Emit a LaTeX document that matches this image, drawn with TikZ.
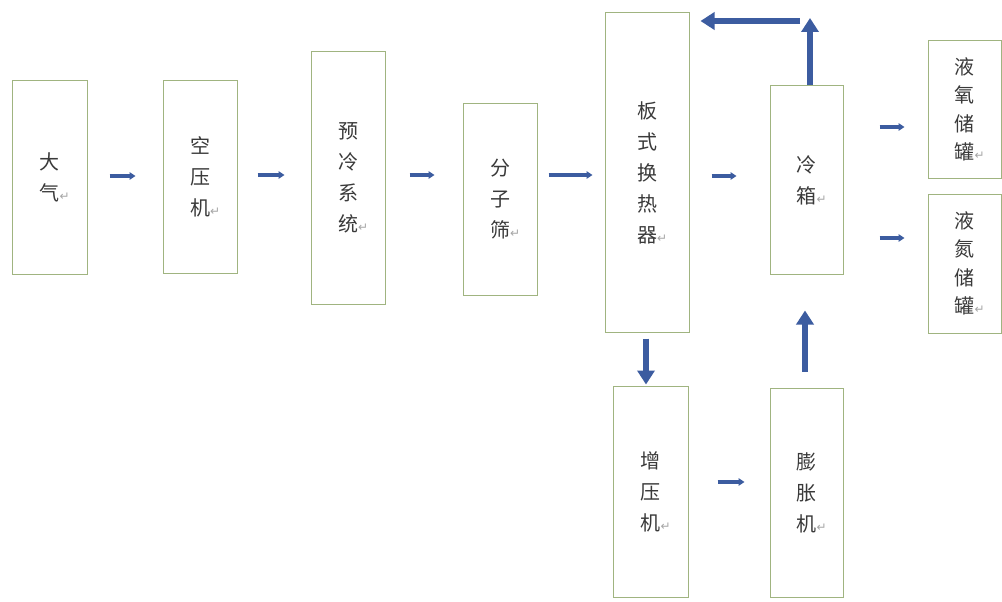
\documentclass[tikz,border=0pt]{standalone}
\usepackage{fontspec}
\newfontfamily\cjk{Noto Sans CJK SC}
\newfontfamily\symf{DejaVu Sans}
\usetikzlibrary{arrows.meta}
\definecolor{boxc}{RGB}{160,180,128}
\definecolor{arrc}{RGB}{60,92,160}
\definecolor{txtc}{RGB}{58,58,58}
\newcommand{\pmk}{\rlap{\symf\fontsize{12}{12}\selectfont\textcolor{black!35}{↵}}}
\tikzset{
  box/.style={draw=boxc, line width=1pt, fill=white, inner sep=0pt, align=center,
    text=txtc, font={\cjk\fontsize{20}{31}\selectfont}},
  sarr/.style={draw=arrc, line width=4pt, -{Triangle[length=6pt,width=7.5pt]}},
  barr/.style={draw=arrc, line width=6.5pt, -{Triangle[length=14pt,width=17pt]}}
}
\begin{document}
\begin{tikzpicture}[x=1pt,y=-1pt]
\useasboundingbox[fill=white] (0,0) rectangle (1002,602);
\node[box, minimum width=75pt, minimum height=193pt] (dq) at (49.5,177.5) {大\\气\pmk};
\node[box, minimum width=74pt, minimum height=192pt] (ky) at (200,177) {空\\压\\机\pmk};
\node[box, minimum width=74pt, minimum height=252pt] (yl) at (348,178) {预\\冷\\系\\统\pmk};
\node[box, minimum width=74pt, minimum height=191pt] (fz) at (500,199.5) {分\\子\\筛\pmk};
\node[box, minimum width=84pt, minimum height=319pt] (bs) at (647,172.5) {板\\式\\换\\热\\器\pmk};
\node[box, minimum width=73pt, minimum height=188pt] (lx) at (806.5,180) {冷\\箱\pmk};
\node[box, minimum width=73pt, minimum height=137pt, font={\cjk\fontsize{20}{28.5}\selectfont}] (yy) at (964.5,109.5) {液\\氧\\储\\罐\pmk};
\node[box, minimum width=73pt, minimum height=139pt, font={\cjk\fontsize{20}{28.5}\selectfont}] (yd) at (964.5,263.5) {液\\氮\\储\\罐\pmk};
\node[box, minimum width=75pt, minimum height=211pt] (zy) at (650.5,491.5) {增\\压\\机\pmk};
\node[box, minimum width=73pt, minimum height=209pt] (pz) at (806.5,492.5) {膨\\胀\\机\pmk};
\coordinate (top1) at (810,18);
\coordinate (top2) at (800,21);
% small arrows
\draw[sarr, shorten <=22pt, shorten >=27pt] (dq.east |- 0,176) -- (ky.west |- 0,176);
\draw[sarr, shorten <=20pt, shorten >=26pt] (ky.east |- 0,175) -- (yl.west |- 0,175);
\draw[sarr, shorten <=24pt, shorten >=28pt] (yl.east |- 0,175) -- (fz.west |- 0,175);
\draw[sarr, shorten <=11pt, shorten >=12pt] (fz.east |- 0,175) -- (bs.west |- 0,175);
\draw[sarr, shorten <=22pt, shorten >=33pt] (bs.east |- 0,176) -- (lx.west |- 0,176);
\draw[sarr, shorten <=36pt, shorten >=23pt] (lx.east |- 0,127) -- (yy.west |- 0,127);
\draw[sarr, shorten <=36pt, shorten >=23pt] (lx.east |- 0,238) -- (yd.west |- 0,238);
\draw[sarr, shorten <=29pt, shorten >=25pt] (zy.east |- 0,482) -- (pz.west |- 0,482);
% big arrows
\draw[barr, shorten <=6pt, shorten >=1pt] (bs.south -| 646,0) -- (zy.north -| 646,0);
\draw[barr, shorten <=16pt, shorten >=36pt] (pz.north -| 805,0) -- (lx.south -| 805,0);
\draw[barr] (lx.north -| top1) -- (top1);
\draw[barr, shorten >=11pt] (top2) -- (bs.east |- top2);
\end{tikzpicture}
\end{document}
